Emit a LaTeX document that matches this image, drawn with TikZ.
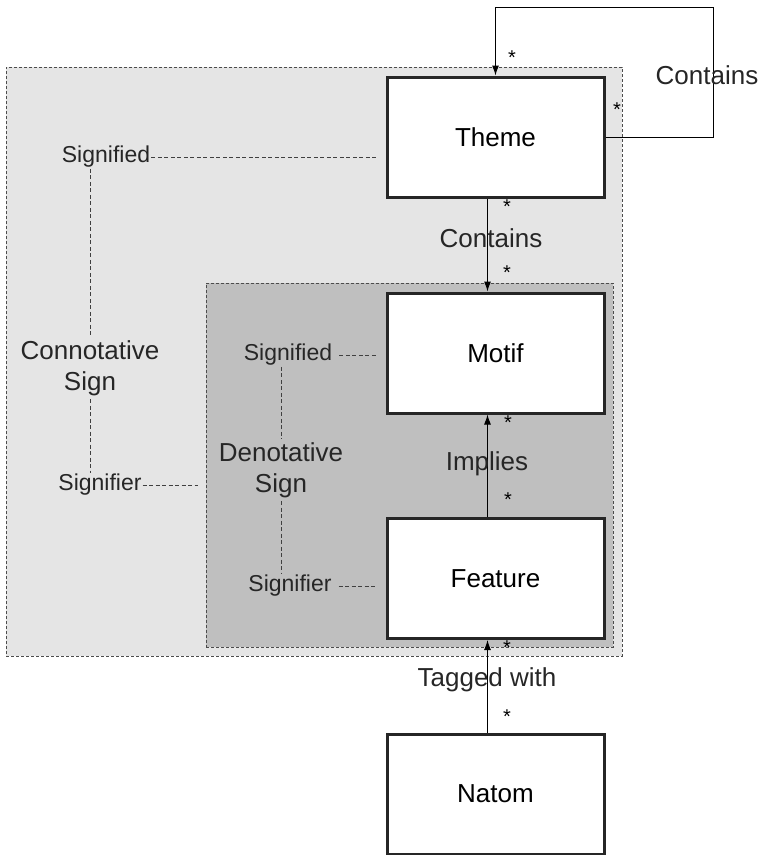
\documentclass[tikz,border=0pt]{standalone}
\usepackage{fontspec}
\setmainfont{Liberation Sans}
\usetikzlibrary{arrows.meta, positioning}
\tikzstyle{box}   = [rectangle, minimum width=217pt, minimum height=120pt, text centered, draw=black!85, line width=3pt, fill=white, font=\fontsize{26}{30}\selectfont]
\tikzstyle{area}  = [rectangle, inner sep=0pt, draw=black!70, line width=0.8pt, dash pattern=on 3pt off 2pt]
\tikzstyle{arrow} = [line width=1pt, ->, >={Latex[length=10pt,width=7pt]}]
\tikzstyle{link}  = [draw=black!75, line width=0.8pt, dash pattern=on 4pt off 2.5pt]
\tikzstyle{lbl}   = [text=black!85, align=center, font=\fontsize{26}{31}\selectfont]
\tikzstyle{role}  = [text=black!85, inner sep=1pt, font=\fontsize{23}{27}\selectfont]
\tikzstyle{mult}  = [inner sep=0pt, font=\fontsize{20}{20}\selectfont]

\begin{document}
\begin{tikzpicture}[x=1pt, y=-1pt, node distance=216pt]
      \useasboundingbox (0,0) rectangle (761,855);

      % sign areas
      \node (outer) [area, fill=black!10, minimum width=616pt, minimum height=589pt] at (314,361.5) {};
      \node (inner) [area, fill=black!25, minimum width=407pt, minimum height=364pt] at (409.5,465) {};

      % classes
      \node (theme)   [box] at (495.5,137)             {Theme};
      \node (motif)   [box, below of=theme]              {Motif};
      \node (feature) [box, below of=motif, yshift=-9.5pt] {Feature};
      \node (natom)   [box, below of=feature, yshift=0.5pt] {Natom};

      \coordinate (loop) at (713,7);

      % associations
      \draw [arrow] (theme.east) -| (loop) -| (theme.north);
      \draw [arrow] ([xshift=-8pt]theme.south) -- ([xshift=-8pt]motif.north);
      \draw [arrow] ([xshift=-8pt]feature.north) -- ([xshift=-8pt]motif.south);
      \draw [arrow] ([xshift=-8pt]natom.north) -- ([xshift=-8pt]feature.south);

      \node (contL)   [lbl] at (707,75)  {Contains};
      \node (contT)   [lbl] at (491,238) {Contains};
      \node (implies) [lbl] at (487,464) {Implies};
      \node (tagged)  [lbl] at (487,680) {Tagged with};

      \node (m1) [mult] at (512,58)  {*};
      \node (m2) [mult] at (617,110) {*};
      \node (m3) [mult] at (507,207) {*};
      \node (m4) [mult] at (507,273) {*};
      \node (m5) [mult] at (508,423) {*};
      \node (m6) [mult] at (508,500) {*};
      \node (m7) [mult] at (507,648) {*};
      \node (m8) [mult] at (507,717) {*};

      % connotative sign
      \node (sigO)   [role] at (106,157) {Signified};
      \node (connot) [lbl]  at (90,368)  {Connotative\\Sign};
      \node (sigrO)  [role] at (100,485) {Signifier};

      \draw [link, shorten >=7pt] (sigO.east) -- (sigO.east -| theme.west);
      \draw [link] (sigO.south -| connot.north) -- (connot.north);
      \draw [link] (connot.south) -- (sigrO.north -| connot.south);
      \draw [link, shorten >=8pt] (sigrO.east) -- (sigrO.east -| inner.west);

      % denotative sign
      \node (sigI)   [role] at (288,355) {Signified};
      \node (denot)  [lbl]  at (281,470) {Denotative\\Sign};
      \node (sigrI)  [role] at (290,586) {Signifier};

      \draw [link, shorten <=6pt, shorten >=8pt] (sigI.east) -- (sigI.east -| motif.west);
      \draw [link] (sigI.south -| denot.north) -- (denot.north);
      \draw [link] (denot.south) -- (sigrI.north -| denot.south);
      \draw [link, shorten <=6pt, shorten >=8pt] (sigrI.east) -- (sigrI.east -| feature.west);

    \end{tikzpicture}
\end{document}
